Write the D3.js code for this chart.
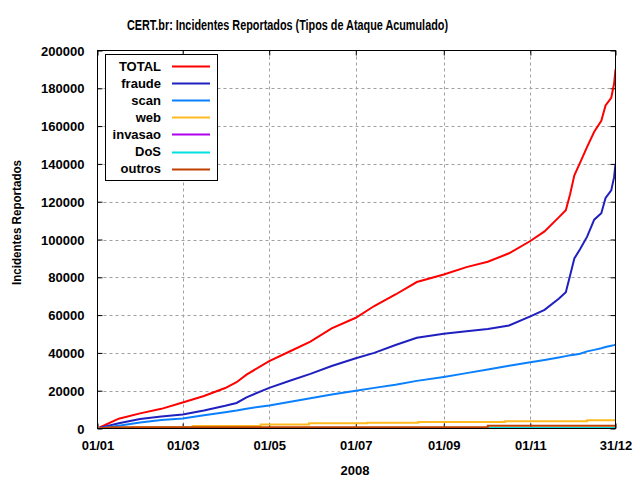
<!DOCTYPE html>
<html>
<head>
<meta charset="utf-8">
<script src="https://cdn.jsdelivr.net/npm/d3@7"></script>
<style>
  html, body { margin: 0; padding: 0; background: #fff; }
  svg { display: block; }
  text { font-family: "Liberation Sans", Arial, Helvetica, sans-serif; font-weight: bold; fill: #000; }
</style>
</head>
<body>
<svg id="chart" width="640" height="480"></svg>
<script>
// ---- data (day offsets from 01/01/2008) ----
const days   = [0, 15, 30, 45, 60, 75, 90, 98, 105, 121, 135, 150, 165, 182, 195, 210, 225, 244, 260, 275, 290, 305, 315, 325, 330, 333, 336, 340, 345, 350, 355, 358, 362, 364, 365];
const total  = [0, 5200, 8000, 10400, 13800, 17200, 21400, 24500, 28500, 35600, 40600, 46000, 53000, 58600, 64800, 70900, 77500, 81500, 85400, 88200, 92700, 99200, 104300, 111700, 115500, 124000, 134000, 140500, 149000, 157000, 162800, 170900, 175000, 182400, 190000];
const fraude = [0, 2800, 5000, 6300, 7400, 9500, 12000, 13500, 16500, 21500, 25100, 28900, 33100, 37200, 40000, 44200, 48000, 50100, 51500, 52700, 54500, 59300, 62800, 68600, 72100, 81000, 90000, 94800, 101500, 110500, 113900, 122000, 126000, 133000, 140000];
const scan   = [0, 1500, 3200, 4500, 5300, 7000, 8600, 9500, 10500, 12200, 14000, 16000, 18000, 20000, 21500, 23200, 25200, 27300, 29300, 31200, 33200, 35100, 36300, 37600, 38300, 38700, 39000, 39600, 40800, 41600, 42500, 43100, 43800, 44100, 44400];

const webDays     = [0, 24, 24, 67, 67, 115, 115, 149, 149, 190, 190, 226, 226, 287, 287, 345, 345, 365];
const webValues   = [0, 0, 700, 700, 1300, 1300, 2100, 2100, 2800, 2800, 3000, 3000, 3400, 3400, 3900, 3900, 4400, 4400];
const invDays     = [0, 365];
const invValues   = [0, 100];
const dosDays     = [0, 275, 275, 365];
const dosValues   = [0, 50, 200, 200];
const outrosDays  = [0, 10, 275, 275, 365];
const outrosValues= [0, 600, 700, 1400, 1400];

const seriesNames  = ["TOTAL", "fraude", "scan", "web", "invasao", "DoS", "outros"];
const seriesColors = ["#ff0000", "#2020c0", "#0a80ff", "#ffba20", "#b000f0", "#00e0e0", "#c04000"];

const yTicks = [0, 20000, 40000, 60000, 80000, 100000, 120000, 140000, 160000, 180000, 200000];
const xTickLabels = ["01/01", "01/03", "01/05", "01/07", "01/09", "01/11", "31/12"];
const xTickDates  = ["2008-01-01", "2008-03-01", "2008-05-01", "2008-07-01", "2008-09-01", "2008-11-01", "2008-12-31"];

const titleText = "CERT.br: Incidentes Reportados (Tipos de Ataque Acumulado)";
const yLabelText = "Incidentes Reportados";
const xLabelText = "2008";

// ---- helpers ----
const base = Date.UTC(2008, 0, 1);
const dayToDate = d => new Date(base + d * 86400000);
const parse = s => { const [y, m, d] = s.split("-").map(Number); return new Date(Date.UTC(y, m - 1, d)); };

const L = 97.5, R = 615.5, T = 50.5, B = 428.5;
const x = d3.scaleUtc().domain([parse("2008-01-01"), parse("2008-12-31")]).range([L, R]);
const y = d3.scaleLinear().domain([0, 200000]).range([B, T]);

const svg = d3.select("#chart");
svg.append("rect").attr("width", 640).attr("height", 480).attr("fill", "#fff");

// grid
const grid = svg.append("g").attr("stroke", "#a0a0a0").attr("stroke-width", 1).attr("stroke-dasharray", "3,3");
grid.selectAll("line.h").data(yTicks.slice(1, -1)).join("line")
  .attr("x1", L).attr("x2", R).attr("y1", d => Math.round(y(d)) + 0.5).attr("y2", d => Math.round(y(d)) + 0.5);
grid.selectAll("line.v").data(xTickDates.slice(1, -1)).join("line")
  .attr("y1", T).attr("y2", B).attr("x1", d => Math.round(x(parse(d))) + 0.5).attr("x2", d => Math.round(x(parse(d))) + 0.5);

// axes via d3 axis generators
const yAxisL = d3.axisLeft(y).tickValues(yTicks).tickSize(-5).tickPadding(13).tickFormat(d3.format("d"));
const gL = svg.append("g").attr("transform", `translate(${L},0)`).call(yAxisL);
const yAxisR = d3.axisRight(y).tickValues(yTicks).tickSize(-5).tickFormat("");
const gR = svg.append("g").attr("transform", `translate(${R},0)`).call(yAxisR);
const xAxisB = d3.axisBottom(x).tickValues(xTickDates.map(parse)).tickSize(-5).tickPadding(12)
  .tickFormat((d, i) => xTickLabels[i]);
const gB = svg.append("g").attr("transform", `translate(0,${B})`).call(xAxisB);
const xAxisT = d3.axisTop(x).tickValues(xTickDates.map(parse)).tickSize(-5).tickFormat("");
const gT = svg.append("g").attr("transform", `translate(0,${T})`).call(xAxisT);
[gL, gR, gB, gT].forEach(g => {
  g.select(".domain").remove();
  g.selectAll(".tick line").attr("stroke", "#000").attr("stroke-width", 1);
  g.selectAll("text").attr("font-size", 13).attr("font-family", '"Liberation Sans", Arial, sans-serif')
    .attr("font-weight", "bold").attr("fill", "#000");
});
gL.selectAll(".tick text").attr("dy", "0.36em");
gB.selectAll(".tick text").attr("dy", "0.71em");

// series lines
const lineGen = d3.line().x(p => x(p[0])).y(p => y(p[1]));
const seriesData = [
  days.map((d, i) => [dayToDate(d), total[i]]),
  days.map((d, i) => [dayToDate(d), fraude[i]]),
  days.map((d, i) => [dayToDate(d), scan[i]]),
  webDays.map((d, i) => [dayToDate(d), webValues[i]]),
  invDays.map((d, i) => [dayToDate(d), invValues[i]]),
  dosDays.map((d, i) => [dayToDate(d), dosValues[i]]),
  outrosDays.map((d, i) => [dayToDate(d), outrosValues[i]])
];
svg.append("defs").append("clipPath").attr("id", "clip")
  .append("rect").attr("x", L).attr("y", T - 2).attr("width", R - L).attr("height", B - T + 2);
const lines = svg.append("g").attr("clip-path", "url(#clip)");
seriesData.forEach((s, i) => {
  lines.append("path").datum(s).attr("d", lineGen)
    .attr("fill", "none").attr("stroke", seriesColors[i]).attr("stroke-width", 2)
    .attr("stroke-linejoin", "miter");
});

// border
svg.append("rect").attr("x", L).attr("y", T).attr("width", R - L).attr("height", B - T)
  .attr("fill", "none").attr("stroke", "#000").attr("stroke-width", 1);

// legend
const lg = svg.append("g");
lg.append("rect").attr("x", 105.5).attr("y", 54.5).attr("width", 112).attr("height", 126)
  .attr("fill", "#fff").attr("stroke", "#000").attr("stroke-width", 1);
seriesNames.forEach((name, i) => {
  const cy = 66 + i * 17.1;
  lg.append("text").attr("x", 161).attr("y", cy).attr("dy", "0.36em")
    .attr("text-anchor", "end").attr("font-size", 13).text(name);
  lg.append("line").attr("x1", 172).attr("x2", 210).attr("y1", Math.round(cy) + 0.5).attr("y2", Math.round(cy) + 0.5)
    .attr("stroke", seriesColors[i]).attr("stroke-width", 2);
});

// titles
svg.append("text").attr("x", 287.5).attr("y", 29.5).attr("text-anchor", "middle")
  .attr("font-size", 14.5).style("font-family", '"Liberation Sans Narrow", "Liberation Sans", Arial, sans-serif')
  .attr("textLength", 321).attr("lengthAdjust", "spacingAndGlyphs").text(titleText);
svg.append("text").attr("transform", "translate(21,222.5) rotate(-90)").attr("text-anchor", "middle")
  .attr("font-size", 13).attr("textLength", 125).attr("lengthAdjust", "spacingAndGlyphs").text(yLabelText);
svg.append("text").attr("x", 355).attr("y", 475).attr("text-anchor", "middle")
  .attr("font-size", 13).text(xLabelText);
</script>
</body>
</html>
